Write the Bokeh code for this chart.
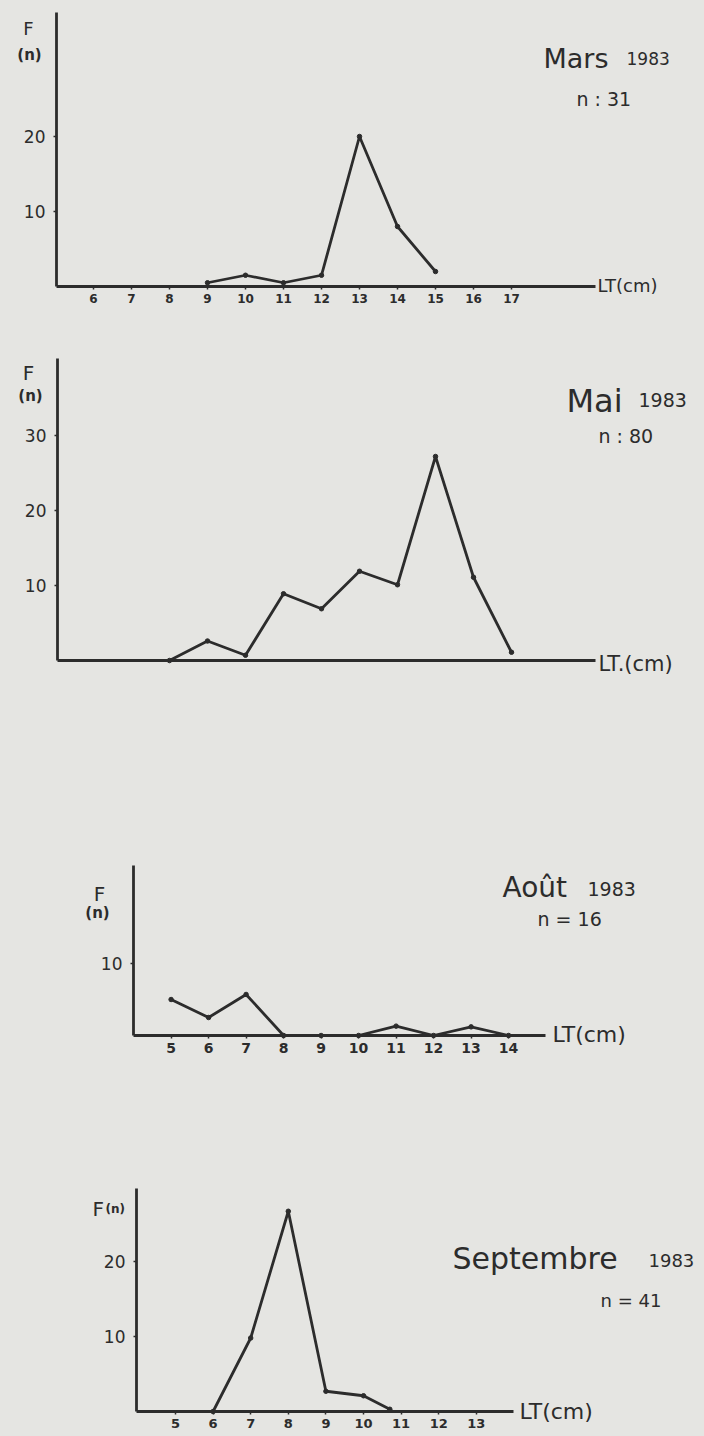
from bokeh.plotting import figure
from bokeh.models import Range1d, FixedTicker, Label
from bokeh.layouts import column
from bokeh.embed import file_html
from bokeh.resources import INLINE

# ---------------- data ----------------
mars_lt = [9, 10, 11, 12, 13, 14, 15]
mars_f = [0.5, 1.5, 0.5, 1.5, 20, 8, 2]

mai_lt = [8, 9, 10, 11, 12, 13, 14, 15, 16, 17]
mai_f = [0, 2.6, 0.7, 8.9, 6.9, 11.9, 10.1, 27.2, 11.1, 1.1]

aout_lt = [5, 6, 7, 8, 9, 10, 11, 12, 13, 14]
aout_f = [5, 2.5, 5.7, 0, 0, 0, 1.3, 0, 1.2, 0]

sept_lt = [6, 7, 8, 9, 10, 10.7]
sept_f = [0, 9.8, 26.7, 2.7, 2.1, 0.3]

mars_xticks = list(range(6, 18))
mai_xticks = []
aout_xticks = list(range(5, 15))
sept_xticks = list(range(5, 14))

mars_yticks = [10, 20]
mai_yticks = [10, 20, 30]
aout_yticks = [10]
sept_yticks = [10, 20]

# ---------------- style ----------------
PAPER = "#e5e5e2"
INK = "#2c2c2c"
FONT = "DejaVu Sans"
W = 704
ORIGIN = 0  # page pixel where the canvas begins


def panel(h, top_page, axis_page_y, left_page, ypx, xpx, xref_val, xref_page,
          ytop_page, xend_page, xticks, yticks, xlab_size, ylab_size):
    def X(px):
        return xref_val + (px - xref_page) / xpx

    def Y(py):
        return (axis_page_y - py) / ypx

    p = figure(width=W, height=h,
               x_range=Range1d(X(ORIGIN), X(ORIGIN + W)),
               y_range=Range1d(Y(top_page + h), Y(top_page)),
               min_border_left=0, min_border_right=0, min_border_top=0,
               min_border_bottom=0, output_backend="svg", toolbar_location=None)
    p.background_fill_color = PAPER
    p.border_fill_color = PAPER
    p.outline_line_color = None
    p.grid.visible = False

    xa = p.xaxis[0]
    xa.fixed_location = 0
    xa.ticker = FixedTicker(ticks=xticks)
    xa.bounds = (X(left_page), X(xend_page))
    xa.axis_line_width = 2.8
    xa.axis_line_color = INK
    xa.major_tick_line_color = INK
    xa.major_tick_line_width = 1.5
    xa.major_tick_out = 3
    xa.major_tick_in = 0
    xa.minor_tick_out = 0
    xa.minor_tick_in = 0
    xa.major_label_standoff = 4
    xa.major_label_text_font = FONT
    xa.major_label_text_font_style = "bold"
    xa.major_label_text_font_size = f"{xlab_size}px"
    xa.major_label_text_color = INK

    ya = p.yaxis[0]
    ya.fixed_location = X(left_page)
    ya.ticker = FixedTicker(ticks=yticks)
    ya.bounds = (0, Y(ytop_page))
    ya.axis_line_width = 2.8
    ya.axis_line_color = INK
    ya.major_tick_line_color = INK
    ya.major_tick_line_width = 1.5
    ya.major_tick_out = 3
    ya.major_tick_in = 0
    ya.minor_tick_out = 0
    ya.minor_tick_in = 0
    ya.major_label_standoff = 8
    ya.major_label_text_font = FONT
    ya.major_label_text_font_size = f"{ylab_size}px"
    ya.major_label_text_color = INK

    def txt(s, px, py, size, align="left", style="normal"):
        p.add_layout(Label(x=X(px), y=Y(py), text=s, text_font=FONT,
                           text_font_size=f"{size}px", text_color=INK,
                           text_align=align, text_baseline="alphabetic",
                           text_font_style=style))

    return p, txt


def draw(p, xs, ys):
    p.line(xs, ys, line_color=INK, line_width=2.8, line_join="round")
    p.scatter(xs, ys, size=4.5, color=INK)


# ---------------- Mars ----------------
p1, t1 = panel(320, 0, 286, 56, 7.5, 38, 5, 55, 12, 595,
               mars_xticks, mars_yticks, 12, 17)
draw(p1, mars_lt, mars_f)
t1("F", 28, 28, 18, "center")
t1("(n)", 29, 54, 15, "center", "bold")
t1("Mars", 543, 58, 27)
t1("1983", 626, 58, 17)
t1("n : 31", 576, 98, 19)
t1("LT(cm)", 597, 285, 18)

# ---------------- Mai ----------------
p2, t2 = panel(370, 320, 660, 57, 7.5, 38, 5, 55, 358, 595,
               mai_xticks, mai_yticks, 12, 17)
draw(p2, mai_lt, mai_f)
t2("F", 28, 372, 20, "center")
t2("(n)", 30, 395, 15, "center", "bold")
t2("Mai", 566, 400, 32)
t2("1983", 638, 399, 19)
t2("n : 80", 598, 435, 19)
t2("LT.(cm)", 598, 663, 21)

# ---------------- Août ----------------
p3, t3 = panel(390, 690, 1035, 133, 7.2, 37.5, 5, 170.6, 865, 545,
               aout_xticks, aout_yticks, 14, 17)
draw(p3, aout_lt, aout_f)
t3("F", 99, 893, 20, "center")
t3("(n)", 97, 912, 15, "center", "bold")
t3("Août", 502, 887, 28)
t3("1983", 587, 888, 19)
t3("n = 16", 537, 918, 19)
t3("LT(cm)", 552, 1034, 22)

# ---------------- Septembre ----------------
p4, t4 = panel(356, 1080, 1411, 136, 7.5, 37.6, 5, 175, 1188, 513,
               sept_xticks, sept_yticks, 13, 17)
draw(p4, sept_lt, sept_f)
t4("F", 92, 1208, 20)
t4("(n)", 105, 1208, 12, "left", "bold")
t4("Septembre", 452, 1258, 30)
t4("1983", 648, 1260, 18)
t4("n = 41", 600, 1300, 18)
t4("LT(cm)", 519, 1411, 22)

layout = column(p1, p2, p3, p4, spacing=0)
html = file_html(layout, INLINE)
html = html.replace("</head>", "<style>html, body { background-color: #e5e5e2; }</style></head>", 1)
open("out.html", "w").write(html)
